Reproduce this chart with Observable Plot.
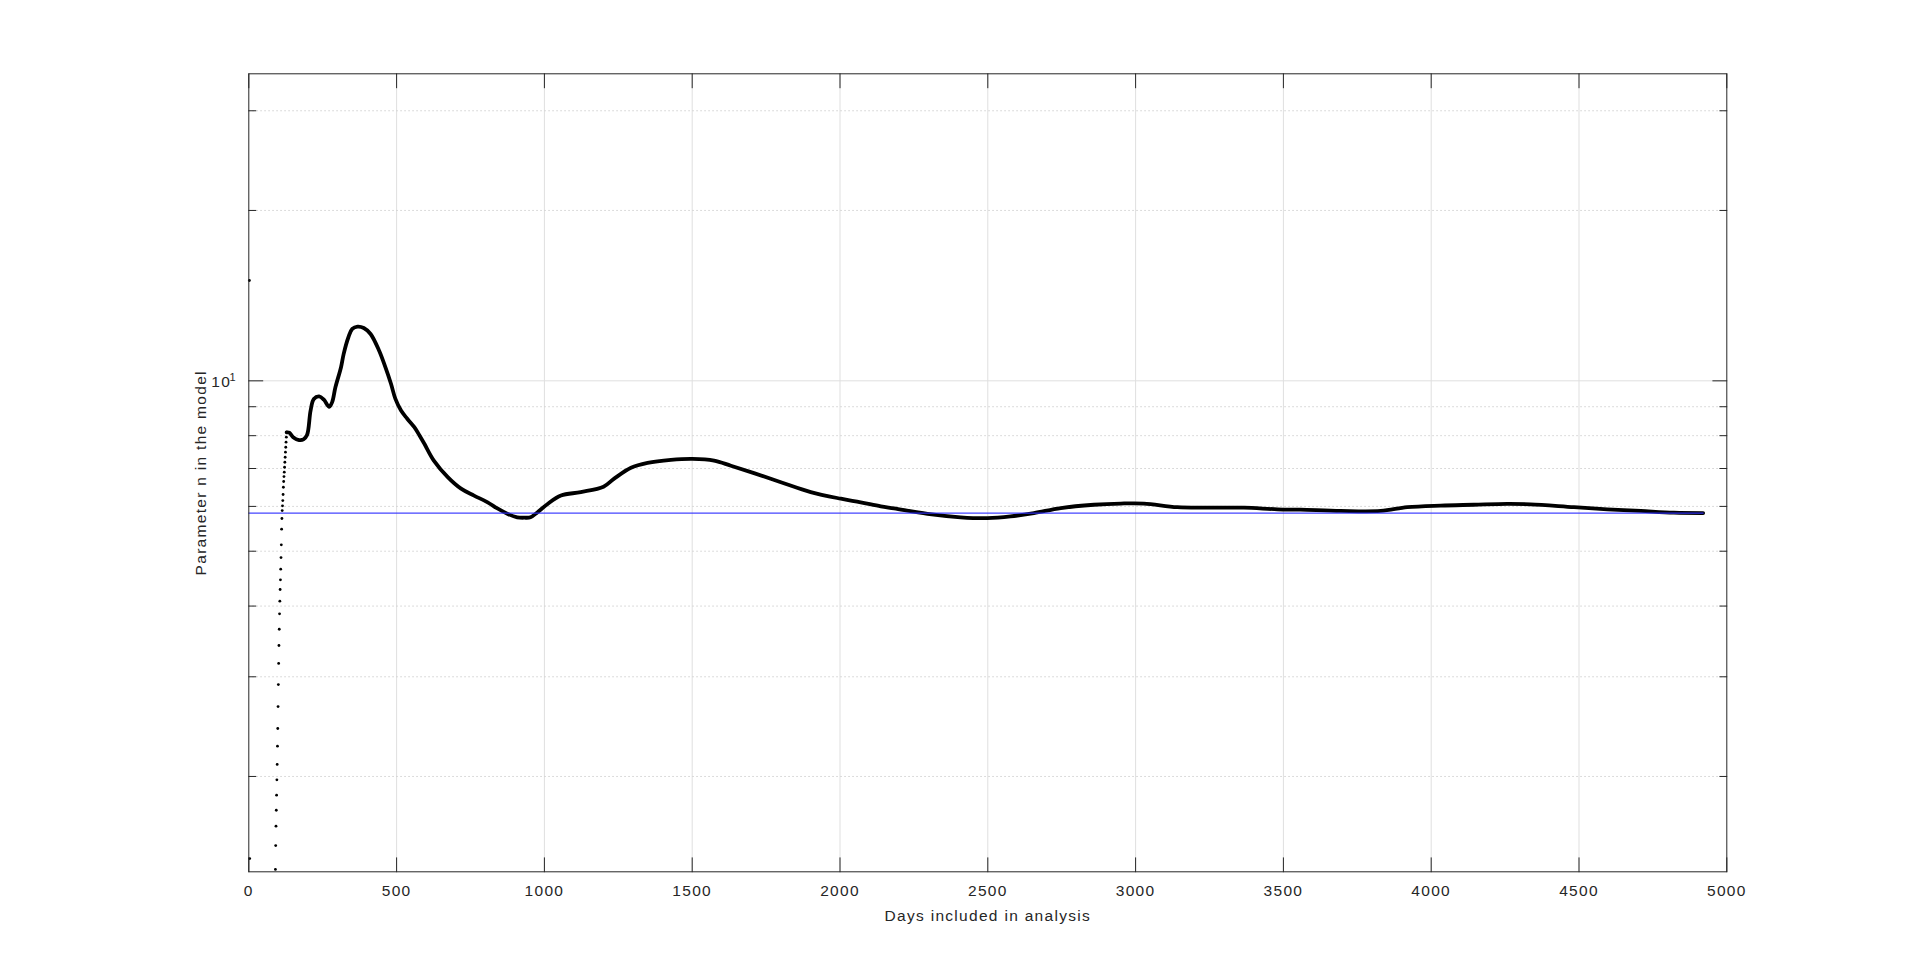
<!DOCTYPE html>
<html>
<head>
<meta charset="utf-8">
<script src="https://cdn.jsdelivr.net/npm/d3@7"></script>
<script src="https://cdn.jsdelivr.net/npm/@observablehq/plot@0.6"></script>
<style>
  html, body { margin: 0; padding: 0; background: #fff; overflow: hidden; }
</style>
</head>
<body>
<div id="chart"></div>
<script>
// ---- data ----
const xTicks = [0, 500, 1000, 1500, 2000, 2500, 3000, 3500, 4000, 4500, 5000];
const xGrid = [500, 1000, 1500, 2000, 2500, 3000, 3500, 4000, 4500];
const yMajor = [10];
const yMinor = [2, 3, 4, 5, 6, 7, 8, 9, 20, 30];
const yDomain = [1.357, 34.87];

// isolated points near day 0
const isoDays = [2, 3];
const isoValues = [15.04, 1.432];

// individual daily points of the steep rise (days 90..128)
const riseStartDay = 90;
const riseValues = [1.370, 1.510, 1.634, 1.743, 1.853, 1.973, 2.100, 2.262, 2.431, 2.658,
  2.906, 3.167, 3.407, 3.640, 3.876, 4.080, 4.279, 4.451, 4.647, 4.873,
  5.131, 5.468, 5.712, 5.900, 6.015, 6.145, 6.297, 6.486, 6.639, 6.775,
  6.895, 7.036, 7.181, 7.328, 7.480, 7.633, 7.790, 7.951, 8.114];

// dense part (drawn as thick line)
const curveDays = [128, 137, 150, 170, 185, 197, 209, 220, 238, 254, 272, 282, 293, 312, 321, 337, 350, 368, 389, 412,
  441, 462, 481, 496, 515, 536, 560, 581, 594, 626, 673, 718, 762, 808, 841, 876, 908, 932, 953, 977,
  1011, 1056, 1123, 1200, 1235, 1293, 1349, 1428, 1501, 1574, 1631, 1709, 1800, 1901, 2003, 2070, 2138, 2183, 2296, 2408,
  2499, 2577, 2656, 2747, 2859, 2950, 3028, 3141, 3254, 3366, 3480, 3558, 3694, 3829, 3919, 4032, 4144, 4257, 4336, 4483,
  4596, 4709, 4821, 4920];
const curveValues = [8.11, 8.10, 7.95, 7.86, 7.88, 8.02, 8.86, 9.29, 9.39, 9.26, 9.00, 9.17, 9.74, 10.57, 11.16, 11.94, 12.35, 12.47, 12.40, 12.10,
  11.30, 10.57, 9.88, 9.29, 8.86, 8.57, 8.28, 7.95, 7.74, 7.23, 6.76, 6.45, 6.27, 6.10, 5.95, 5.82, 5.74, 5.73, 5.74, 5.86,
  6.06, 6.27, 6.36, 6.50, 6.71, 7.02, 7.16, 7.25, 7.28, 7.23, 7.08, 6.87, 6.62, 6.36, 6.19, 6.10, 6.00, 5.95, 5.82, 5.74,
  5.72, 5.76, 5.84, 5.96, 6.04, 6.07, 6.07, 5.98, 5.97, 5.97, 5.93, 5.92, 5.89, 5.89, 5.98, 6.02, 6.04, 6.06, 6.05, 5.98,
  5.93, 5.89, 5.85, 5.84];

// reference (blue) level
const refLevel = 5.84;
const refSpan = [0, 4920];

const xLabel = "Days included in analysis";
const yLabel = "Parameter n in the model";

// ---- build ----
const iso = isoDays.map((d, i) => ({day: d, value: isoValues[i]}));
const rise = riseValues.map((v, i) => ({day: riseStartDay + i, value: v}));
const curve = curveDays.map((d, i) => ({day: d, value: curveValues[i]}));
const ref = refSpan.map(d => ({day: d, value: refLevel}));

const ink = "#262626";
const tickShape = {draw(context, l) { context.moveTo(0, 0); context.lineTo(0, -l); }};
const FS = 15.5;

const chart = Plot.plot({
  width: 1908,
  height: 980,
  marginLeft: 248.3,
  marginRight: 181.7,
  marginTop: 73.3,
  marginBottom: 108.7,
  style: {fontFamily: "'Liberation Sans', Arial, sans-serif", letterSpacing: "1.3px", background: "#fff", color: ink},
  x: {domain: [0, 5000], axis: null},
  y: {type: "log", domain: yDomain, axis: null},
  marks: [
    // grid
    Plot.ruleX(xGrid, {x: d => d, stroke: "#dfdfdf", strokeWidth: 1}),
    Plot.ruleY(yMinor, {y: d => d, stroke: "#d0d0d0", strokeWidth: 1, strokeDasharray: "1.5,2.5"}),
    Plot.ruleY(yMajor, {y: d => d, stroke: "#dfdfdf", strokeWidth: 1}),
    // data
    Plot.dot(iso, {x: "day", y: "value", r: 1.4, fill: "black", stroke: null}),
    Plot.dot(rise, {x: "day", y: "value", r: 1.4, fill: "black", stroke: null}),
    Plot.line(curve, {x: "day", y: "value", stroke: "black", strokeWidth: 3.8, curve: "catmull-rom", strokeLinecap: "round", strokeLinejoin: "round"}),
    Plot.line(ref, {x: "day", y: "value", stroke: "#3030ff", strokeWidth: 1.2, strokeOpacity: 0.9}),
    // ticks (inward)
    Plot.vector(xTicks, {x: d => d, frameAnchor: "bottom", length: 14, rotate: 0, anchor: "start", shape: tickShape, stroke: ink, strokeWidth: 1}),
    Plot.vector(xTicks, {x: d => d, frameAnchor: "top", length: 14, rotate: 180, anchor: "start", shape: tickShape, stroke: ink, strokeWidth: 1}),
    Plot.vector(yMajor, {y: d => d, frameAnchor: "left", length: 14, rotate: 90, anchor: "start", shape: tickShape, stroke: ink, strokeWidth: 1}),
    Plot.vector(yMajor, {y: d => d, frameAnchor: "right", length: 14, rotate: -90, anchor: "start", shape: tickShape, stroke: ink, strokeWidth: 1}),
    Plot.vector(yMinor, {y: d => d, frameAnchor: "left", length: 7, rotate: 90, anchor: "start", shape: tickShape, stroke: ink, strokeWidth: 1}),
    Plot.vector(yMinor, {y: d => d, frameAnchor: "right", length: 7, rotate: -90, anchor: "start", shape: tickShape, stroke: ink, strokeWidth: 1}),
    Plot.frame({stroke: ink, strokeWidth: 1}),
    // tick labels
    Plot.text(xTicks, {x: d => d, frameAnchor: "bottom", dy: 19.7, lineAnchor: "middle", textAnchor: "middle", text: d => String(d), fontSize: FS, fill: ink}),
    Plot.text(yMajor, {y: d => d, frameAnchor: "left", dx: -17.7, dy: 1.5, lineAnchor: "middle", textAnchor: "end", text: () => "10", fontSize: FS, fill: ink}),
    Plot.text(yMajor, {y: d => d, frameAnchor: "left", dx: -19.3, dy: -3.5, lineAnchor: "middle", textAnchor: "start", text: () => "1", fontSize: 11, fill: ink}),
    // axis labels
    Plot.text([xLabel], {frameAnchor: "bottom", dy: 44.4, lineAnchor: "middle", textAnchor: "middle", text: d => d, fontSize: FS, fill: ink}),
    Plot.text([yLabel], {frameAnchor: "left", dx: -48, rotate: -90, lineAnchor: "middle", textAnchor: "middle", text: d => d, fontSize: FS, fill: ink})
  ]
});
document.getElementById("chart").appendChild(chart);
</script>
</body>
</html>
